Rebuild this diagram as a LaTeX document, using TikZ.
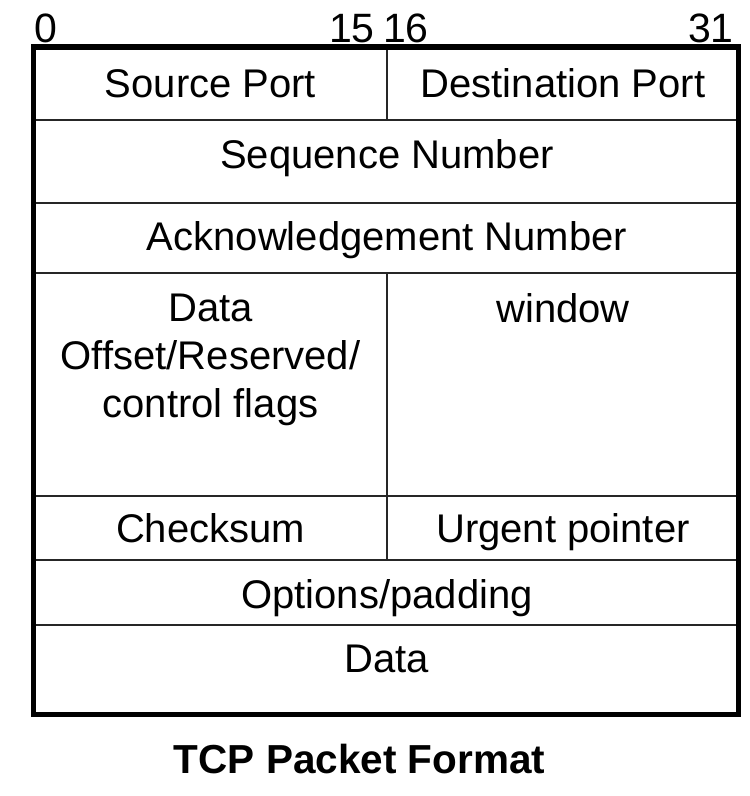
\documentclass[tikz,border=0pt]{standalone}
\usepackage{fontspec}
\setmainfont{Liberation Sans}
\begin{document}
\begin{tikzpicture}[x=1pt,y=-1pt,
  frame/.style={line width=5.5pt,black},
  rule/.style={line width=2pt,black!85},
  field/.style={inner sep=0pt,anchor=base,font=\fontsize{40}{48}\selectfont},
  bitno/.style={inner sep=0pt,font=\fontsize{41}{48}\selectfont},
  caption/.style={inner sep=0pt,anchor=base,font=\fontsize{40.5}{48}\selectfont\bfseries}]
  \useasboundingbox (0,0) rectangle (750,796);

  % horizontal row separators
  \draw[rule] (33,120) -- (739,120);
  \draw[rule] (33,203) -- (739,203);
  \draw[rule] (33,273) -- (739,273);
  \draw[rule] (33,496) -- (739,496);
  \draw[rule] (33,560) -- (739,560);
  \draw[rule] (33,625) -- (739,625);
  % half-word divider
  \draw[rule] (387,47) -- (387,120);
  \draw[rule] (387,273) -- (387,560);

  % outer frame
  \draw[frame] (33.5,47) rectangle (738.5,714.5);

  % bit numbers
  \node[bitno,anchor=base west] (b0) at (34,42) {0};
  \node[bitno,anchor=base east] (b15) at (375,42) {15};
  \node[bitno,anchor=base west] (b16) at (383,42) {16};
  \node[bitno,anchor=base east] (b31) at (734,42) {31};

  % header fields
  \node[field] (src) at (210.5,97) {Source Port};
  \node[field] (dst) at (563,97) {Destination Port};
  \node[field] (seq) at (387,168) {Sequence Number};
  \node[field] (ack) at (387,250) {Acknowledgement Number};
  \node[inner sep=0pt,anchor=north,align=center,
        font=\fontsize{40}{48}\selectfont] (off) at (210.5,293.5)
        {Data\\Offset/Reserved/\\control flags};
  \node[field] (win) at (563,322) {window};
  \node[field] (chk) at (210.5,542) {Checksum};
  \node[field] (urg) at (563,542) {Urgent pointer};
  \node[field] (opt) at (387,608) {Options/padding};
  \node[field] (dat) at (387,672) {Data};

  % caption
  \node[caption] (title) at (359.5,773) {TCP Packet Format};
\end{tikzpicture}
\end{document}
